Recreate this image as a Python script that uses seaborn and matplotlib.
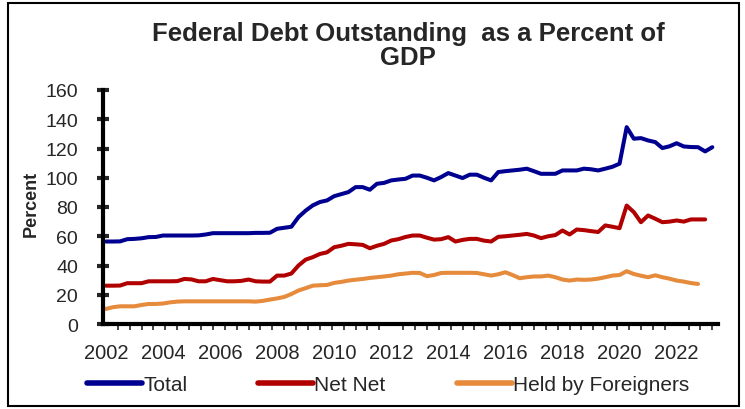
import numpy as np
import pandas as pd
import matplotlib
matplotlib.use("Agg")
import matplotlib.pyplot as plt
from matplotlib.patches import Rectangle
from matplotlib.ticker import FixedLocator
import seaborn as sns

# ---- data (quarterly, starting 2002 Q1) ----
total = [
    56.4, 56.4, 56.5, 58.0,
    58.2, 58.6, 59.4, 59.5,
    60.5, 60.5, 60.5, 60.5,
    60.5, 60.6, 61.2, 62.1,
    62.1, 62.1, 62.1, 62.1,
    62.1, 62.3, 62.3, 62.4,
    65.1, 65.8, 66.5, 73.1,
    77.5, 81.1, 83.4, 84.5,
    87.4, 88.8, 90.2, 93.6,
    93.6, 91.8, 95.9, 96.5,
    98.2, 98.8, 99.3, 101.5,
    101.5, 100.0, 98.2, 100.5,
    103.2, 101.5, 99.8, 102.1,
    102.1, 100.0, 98.2, 103.9,
    104.5, 105.0, 105.5, 106.2,
    104.5, 102.7, 102.7, 102.7,
    105.0, 105.0, 105.0, 106.2,
    105.8, 105.0, 106.2, 107.5,
    109.6, 134.6, 126.7, 127.1,
    125.5, 124.4, 120.3, 121.5,
    123.6, 121.4, 121.0, 120.9,
    118.0, 120.9,
]
net_net = [
    26.2, 26.2, 26.3, 27.9,
    27.9, 27.9, 29.2, 29.2,
    29.2, 29.2, 29.3, 30.8,
    30.5, 29.2, 29.2, 30.8,
    30.0, 29.2, 29.2, 29.5,
    30.4, 29.2, 29.0, 29.0,
    33.1, 33.1, 34.5, 40.0,
    44.0, 45.7, 47.9, 49.0,
    52.5, 53.5, 54.8, 54.5,
    54.1, 51.8, 53.5, 54.8,
    57.1, 58.0, 59.5, 60.5,
    60.5, 59.0, 57.7, 58.0,
    59.4, 56.4, 57.5, 58.2,
    58.2, 57.0, 56.4, 59.6,
    60.0, 60.5, 61.0, 61.6,
    60.5, 58.7, 60.0, 60.8,
    63.9, 61.2, 64.6, 64.2,
    63.5, 62.9, 67.4, 66.5,
    65.5, 81.0, 76.5, 69.6,
    74.2, 72.0, 69.6, 70.0,
    70.8, 70.0, 71.5, 71.5,
    71.5,
]
foreigners = [
    10.3, 11.5, 12.1, 12.1,
    12.1, 13.0, 13.7, 13.7,
    14.0, 14.8, 15.3, 15.5,
    15.5, 15.5, 15.5, 15.5,
    15.5, 15.5, 15.5, 15.5,
    15.5, 15.3, 15.8, 16.7,
    17.5, 18.5, 20.5, 22.9,
    24.5, 26.2, 26.5, 26.7,
    28.1, 28.8, 29.7, 30.3,
    30.8, 31.5, 32.0, 32.5,
    33.1, 34.0, 34.5, 35.0,
    34.9, 32.7, 33.5, 34.9,
    35.0, 35.0, 35.0, 35.0,
    34.9, 34.0, 33.1, 34.0,
    35.4, 33.5, 31.3, 32.0,
    32.5, 32.5, 33.1, 32.0,
    30.4, 29.7, 30.4, 30.2,
    30.4, 31.0, 32.0, 33.1,
    33.5, 36.1, 34.2, 33.0,
    32.0, 33.3, 32.0, 31.0,
    29.7, 29.0, 28.0, 27.4,
]
series_names = ["Total", "Net Net", "Held by Foreigners"]
series_values = [total, net_net, foreigners]
year_labels = list(range(2002, 2023, 2))
y_ticks = list(range(0, 161, 20))

title = "Federal Debt Outstanding  as a Percent of\nGDP"
ylabel = "Percent"
colors = ["#000090", "#B00000", "#E68A3C"]

# ---- long table ----
rows = []
for name, vals in zip(series_names, series_values):
    for i, v in enumerate(vals):
        rows.append({"date": 2002 + i * 0.25, "value": v, "series": name})
df = pd.DataFrame(rows)

sns.set_style("white")
plt.rcParams["font.family"] = ["Liberation Sans", "DejaVu Sans"]

fig = plt.figure(figsize=(7.45, 4.10), dpi=100)
ax = fig.add_axes([103 / 745, 1 - 325 / 410, 615 / 745, 234 / 410])

sns.lineplot(data=df, x="date", y="value", hue="series", hue_order=series_names,
             palette=colors, linewidth=2.9, ax=ax, legend=True)

ax.set_xlim(2001.9, 2023.45)
ax.set_ylim(0, 160)
ax.set_yticks(y_ticks)
ax.set_xticks(year_labels)
ax.set_xticklabels([str(y) for y in year_labels])
ax.xaxis.set_minor_locator(FixedLocator(list(np.arange(2002, 2023.5, 5 / 12))))

for s in ["top", "right"]:
    ax.spines[s].set_visible(False)
for s in ["left", "bottom"]:
    ax.spines[s].set_linewidth(3)
    ax.spines[s].set_color("black")

ax.tick_params(axis="y", which="major", direction="inout", length=8, width=3,
               labelsize=14, pad=14, left=True)
ax.tick_params(axis="x", which="major", length=0, labelsize=14.5, pad=14)
ax.tick_params(axis="x", which="minor", direction="out", length=4, width=1.2,
               bottom=True)

ax.set_xlabel("")
ax.set_ylabel("")
fig.text(31 / 745, 1 - 204 / 410, ylabel, rotation=90, ha="center", va="center",
         fontsize=13, fontweight="bold")
ax.grid(False)

fig.text(408 / 745, 1 - 46 / 410, title, ha="center", va="center",
         fontsize=18.5, fontweight="bold", linespacing=1.0)

handles, labels = ax.get_legend_handles_labels()
ax.legend_.remove()
for h in handles:
    h.set_linewidth(4)
fig.legend(handles, labels, loc="center", bbox_to_anchor=(388 / 745, 1 - 386 / 410),
           ncol=3, frameon=False, handlelength=2.65, handletextpad=0.05,
           columnspacing=3.4, prop={"size": 15})

fig.patches.append(Rectangle((8 / 745, 3 / 410), 731 / 745, 403 / 410,
                             transform=fig.transFigure, fill=False,
                             edgecolor="black", linewidth=1.5))

fig.savefig("out.png", dpi=100)
